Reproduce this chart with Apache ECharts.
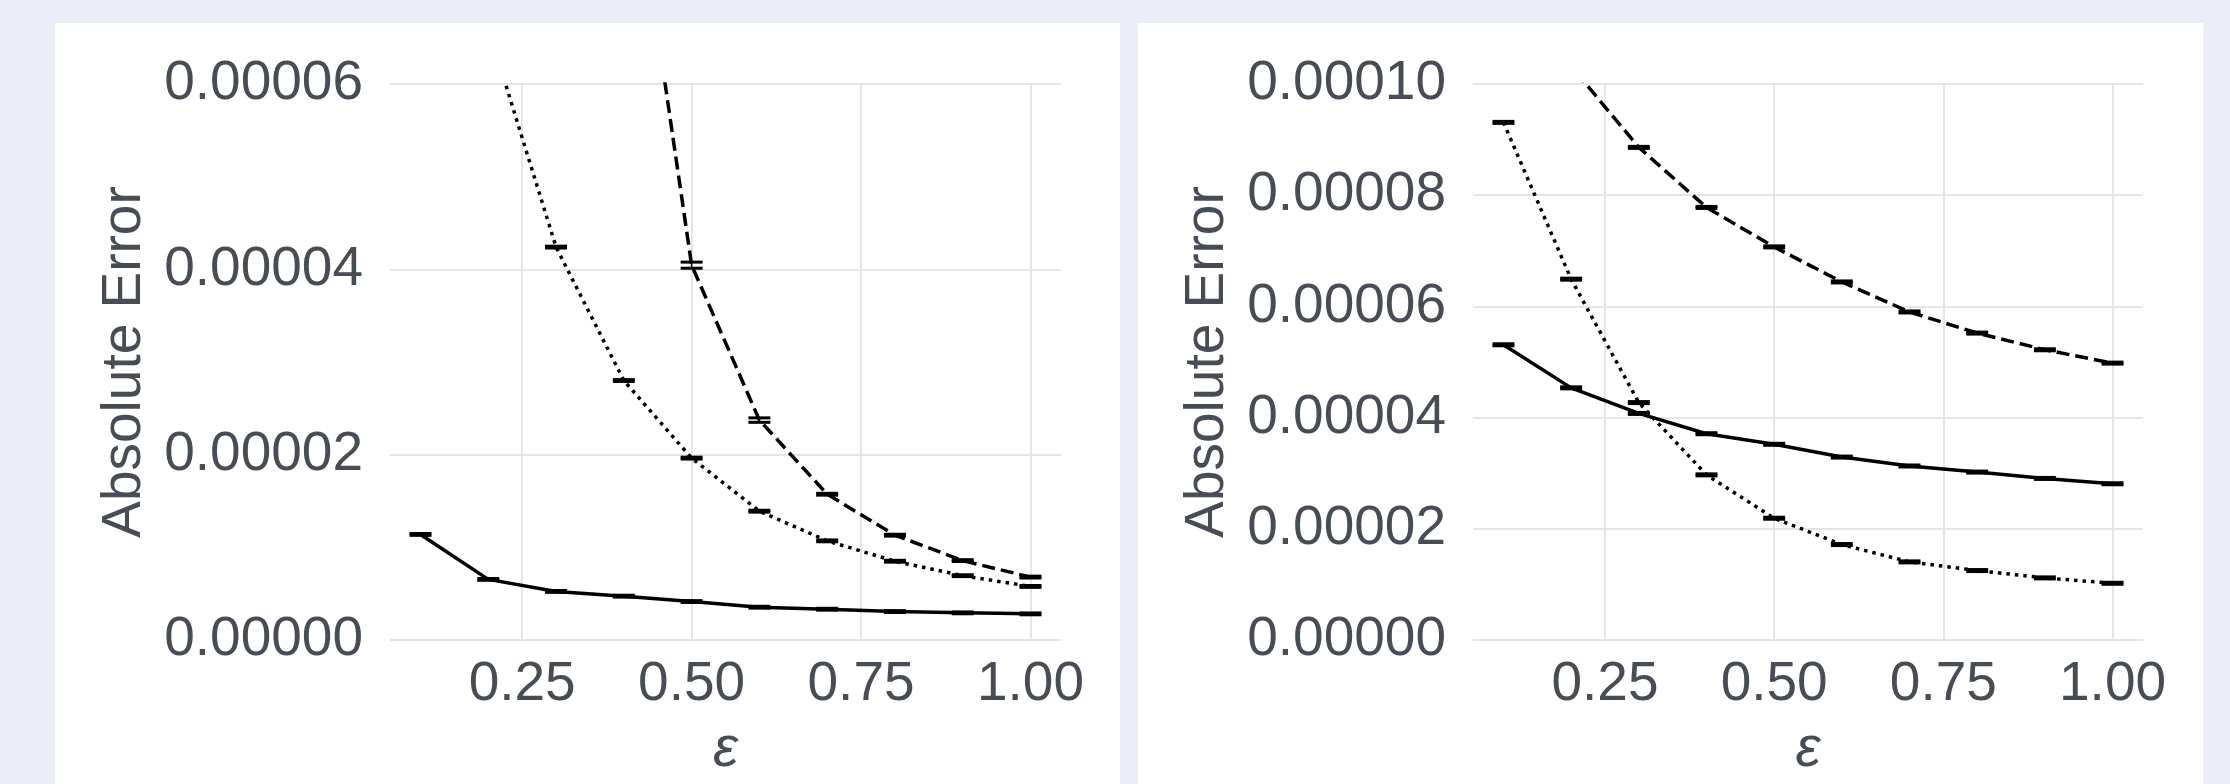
<!DOCTYPE html>
<html>
<head>
<meta charset="utf-8">
<script src="https://cdn.jsdelivr.net/npm/echarts@6/dist/echarts.min.js"></script>
<style>
html,body{margin:0;padding:0;background:#ebeef6;}
#chart{width:2230px;height:784px;}
</style>
</head>
<body>
<div id="chart"></div>
<script>
// ---- data ----
const eps = [0.1, 0.2, 0.3, 0.4, 0.5, 0.6, 0.7, 0.8, 0.9, 1.0];
const xTicks = [0.25, 0.50, 0.75, 1.00];
const yTicksLeft = [0, 0.00002, 0.00004, 0.00006];
const yTicksRight = [0, 0.00002, 0.00004, 0.00006, 0.00008, 0.00010];

// left panel
const solidLeft  = [1.139e-5, 0.654e-5, 0.524e-5, 0.473e-5, 0.415e-5, 0.354e-5, 0.332e-5, 0.307e-5, 0.293e-5, 0.282e-5];
const dottedLeft = [1.50e-4, 6.60e-5, 4.24e-5, 2.80e-5, 1.963e-5, 1.39e-5, 1.07e-5, 0.85e-5, 0.694e-5, 0.578e-5];
const dashedLeft = [1.30e-3, 4.00e-4, 1.90e-4, 9.05e-5, 4.045e-5, 2.373e-5, 1.573e-5, 1.131e-5, 0.857e-5, 0.679e-5];
const solidLeftErr  = [1e-7, 1e-7, 1e-7, 1e-7, 1e-7, 1e-7, 1e-7, 1e-7, 1e-7, 1e-7];
const dottedLeftErr = [1e-7, 1e-7, 1e-7, 1e-7, 1e-7, 1e-7, 1e-7, 1e-7, 1e-7, 1e-7];
const dashedLeftErr = [1e-7, 1e-7, 1e-7, 1e-7, 3.3e-7, 2.4e-7, 1e-7, 1e-7, 1e-7, 1e-7];

// right panel
const solidRight  = [5.31e-5, 4.535e-5, 4.075e-5, 3.71e-5, 3.52e-5, 3.29e-5, 3.13e-5, 3.02e-5, 2.906e-5, 2.81e-5];
const dottedRight = [9.31e-5, 6.49e-5, 4.27e-5, 2.97e-5, 2.19e-5, 1.717e-5, 1.405e-5, 1.249e-5, 1.117e-5, 1.02e-5];
const dashedRight = [1.30e-4, 1.032e-4, 8.86e-5, 7.78e-5, 7.07e-5, 6.44e-5, 5.90e-5, 5.52e-5, 5.22e-5, 4.98e-5];
const solidRightErr  = [1.8e-7, 1.8e-7, 1.8e-7, 1.8e-7, 1.8e-7, 1.8e-7, 1.8e-7, 1.8e-7, 1.8e-7, 1.8e-7];
const dottedRightErr = [1.8e-7, 1.8e-7, 1.8e-7, 1.8e-7, 1.8e-7, 1.8e-7, 1.8e-7, 1.8e-7, 1.8e-7, 1.8e-7];
const dashedRightErr = [1.8e-7, 1.8e-7, 1.8e-7, 1.8e-7, 1.8e-7, 1.8e-7, 1.8e-7, 1.8e-7, 1.8e-7, 1.8e-7];

// ---- styling ----
const FONT = 'Liberation Sans';
const TXT = '#474c55';
const GRIDC = '#e8e5e1';
const FS = 55;
const LW = 3.5;

const chart = echarts.init(document.getElementById('chart'), null, {renderer: 'canvas'});

function pairs(ys) { return eps.map((x, i) => [x, ys[i]]); }
function errData(ys, es, ymax) {
  const out = [];
  eps.forEach((x, i) => { if (ys[i] <= ymax) out.push([x, ys[i], es[i]]); });
  return out;
}
function errRender(params, api) {
  const x = api.value(0), y = api.value(1), e = api.value(2);
  const hw = 0.0162;
  const top = api.coord([x, y + e]);
  const bot = api.coord([x, y - e]);
  const l = api.coord([x - hw, y])[0];
  const r = api.coord([x + hw, y])[0];
  const st = {stroke: '#000', lineWidth: 3};
  return {
    type: 'group',
    children: [
      {type: 'line', shape: {x1: l, y1: top[1], x2: r, y2: top[1]}, style: st},
      {type: 'line', shape: {x1: l, y1: bot[1], x2: r, y2: bot[1]}, style: st},
      {type: 'line', shape: {x1: top[0], y1: top[1], x2: top[0], y2: bot[1]}, style: {stroke: '#000', lineWidth: 1.5}}
    ]
  };
}

function lineSeries(idx, ys, dash) {
  return {
    type: 'line', xAxisIndex: idx, yAxisIndex: idx,
    data: pairs(ys), showSymbol: false, symbol: 'none', clip: true,
    lineStyle: {color: '#000', width: LW, type: dash, cap: 'butt'},
    emphasis: {disabled: true}, animation: false, z: 3
  };
}
function errSeries(idx, ys, es, ymax) {
  return {
    type: 'custom', xAxisIndex: idx, yAxisIndex: idx, clip: true,
    data: errData(ys, es, ymax), renderItem: errRender,
    animation: false, z: 4, silent: true
  };
}

function xAxisOpt(gi) {
  return {
    type: 'value', gridIndex: gi, min: 0.055, max: 1.045,
    name: 'ε', nameLocation: 'middle', nameGap: 82,
    nameTextStyle: {fontFamily: FONT, fontSize: 57, fontStyle: 'italic', color: TXT},
    axisLine: {show: false},
    axisTick: {show: false, customValues: xTicks},
    axisLabel: {customValues: xTicks, formatter: v => v.toFixed(2), fontFamily: FONT, fontSize: FS, color: TXT, margin: 17},
    splitLine: {show: true, lineStyle: {color: GRIDC, width: 2}}
  };
}
function yAxisOpt(gi, ticks) {
  return {
    type: 'value', gridIndex: gi, min: ticks[0], max: ticks[ticks.length - 1],
    name: 'Absolute Error', nameLocation: 'middle', nameGap: 238, nameRotate: 90,
    nameTextStyle: {fontFamily: FONT, fontSize: FS, color: TXT},
    axisLine: {show: false},
    axisTick: {show: false, customValues: ticks},
    axisLabel: {customValues: ticks, formatter: v => v.toFixed(5), fontFamily: FONT, fontSize: FS, color: TXT, margin: 27},
    splitLine: {show: true, lineStyle: {color: GRIDC, width: 2}}
  };
}

const option = {
  backgroundColor: '#ebeef6',
  animation: false,
  graphic: [
    {type: 'rect', z: -100, silent: true, shape: {x: 55, y: 23, width: 1065, height: 761}, style: {fill: '#ffffff'}},
    {type: 'rect', z: -100, silent: true, shape: {x: 1138, y: 23, width: 1065, height: 761}, style: {fill: '#ffffff'}}
  ],
  grid: [
    {left: 390, right: 1169, top: 84, bottom: 144, containLabel: false, outerBoundsMode: 'none'},
    {left: 1473, right: 87, top: 84, bottom: 144, containLabel: false, outerBoundsMode: 'none'}
  ],
  xAxis: [xAxisOpt(0), xAxisOpt(1)],
  yAxis: [yAxisOpt(0, yTicksLeft), yAxisOpt(1, yTicksRight)],
  series: [
    lineSeries(0, solidLeft, 'solid'),
    lineSeries(0, dottedLeft, [3.5, 5]),
    lineSeries(0, dashedLeft, [13, 6]),
    errSeries(0, solidLeft, solidLeftErr, 6e-5),
    errSeries(0, dottedLeft, dottedLeftErr, 6e-5),
    errSeries(0, dashedLeft, dashedLeftErr, 6e-5),
    lineSeries(1, solidRight, 'solid'),
    lineSeries(1, dottedRight, [3.5, 5]),
    lineSeries(1, dashedRight, [13, 6]),
    errSeries(1, solidRight, solidRightErr, 1e-4),
    errSeries(1, dottedRight, dottedRightErr, 1e-4),
    errSeries(1, dashedRight, dashedRightErr, 1e-4)
  ]
};
chart.setOption(option);
</script>
</body>
</html>
